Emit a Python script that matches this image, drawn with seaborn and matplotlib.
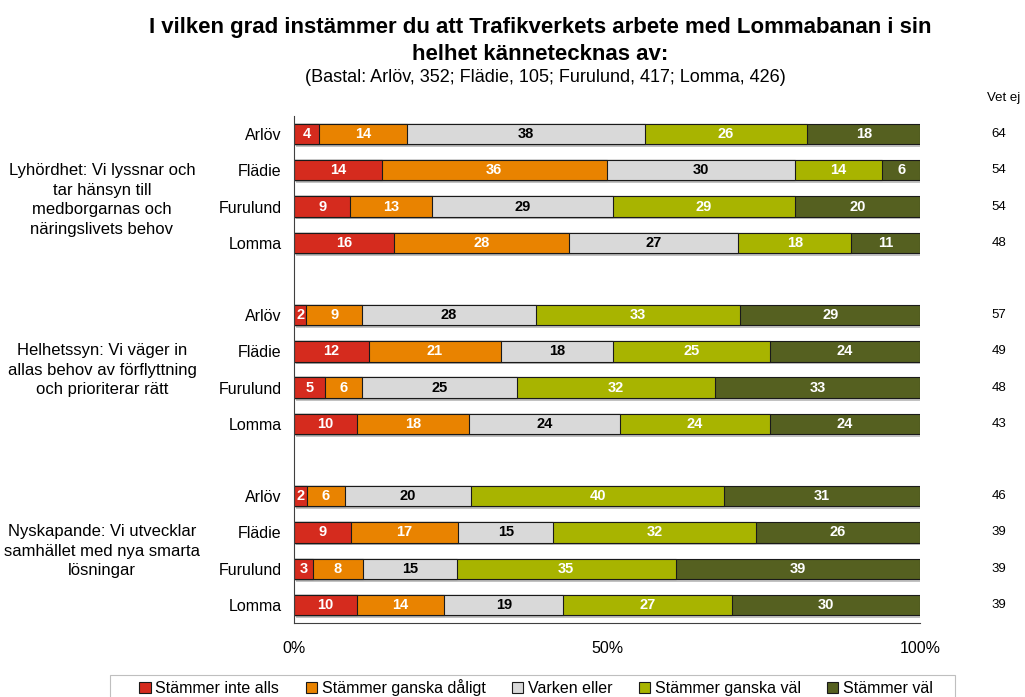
#!/usr/bin/env python3

import numpy as np
import pandas as pd
import matplotlib.pyplot as plt
import matplotlib.patheffects as pe
from matplotlib.patches import Patch, Rectangle
from matplotlib.transforms import blended_transform_factory
import seaborn as sns

# data
platser = ['Arlöv', 'Flädie', 'Furulund', 'Lomma']
teman = [
    'Lyhördhet: Vi lyssnar och\ntar hänsyn till\nmedborgarnas och\nnäringslivets behov',
    'Helhetssyn: Vi väger in\nallas behov av förflyttning\noch prioriterar rätt',
    'Nyskapande: Vi utvecklar\nsamhället med nya smarta\nlösningar',
]
svar = ['Stämmer inte alls', 'Stämmer ganska dåligt', 'Varken eller',
        'Stämmer ganska väl', 'Stämmer väl']

inte_alls = [4, 14, 9, 16, 2, 12, 5, 10, 2, 9, 3, 10]
ganska_daligt = [14, 36, 13, 28, 9, 21, 6, 18, 6, 17, 8, 14]
varken = [38, 30, 29, 27, 28, 18, 25, 24, 20, 15, 15, 19]
ganska_val = [26, 14, 29, 18, 33, 25, 32, 24, 40, 32, 35, 27]
val = [18, 6, 20, 11, 29, 24, 33, 24, 31, 26, 39, 30]
vet_ej = [64, 54, 54, 48, 57, 49, 48, 43, 46, 39, 39, 39]

farger = ['#D52B1E', '#E98300', '#D9D9D9', '#A8B400', '#556020']
textfarg = ['white', 'white', 'black', 'white', 'white']

sns.set_style('white')
plt.rcParams['font.family'] = ['Liberation Sans', 'DejaVu Sans']
plt.rcParams['text.color'] = 'black'
plt.rcParams['xtick.color'] = 'black'
plt.rcParams['ytick.color'] = 'black'

# row keys, with empty gap rows between the themes
keys = []
order = []
for t in range(len(teman)):
    for p in platser:
        keys.append(f'{t}-{p}')
        order.append(f'{t}-{p}')
    if t < len(teman) - 1:
        order.append(f'gap{t}')

vals = np.array([inte_alls, ganska_daligt, varken, ganska_val, val], dtype=float)
pct = vals / vals.sum(axis=0) * 100
cum = pct.cumsum(axis=0)

fig = plt.figure(figsize=(10.25, 6.97), dpi=100)
ax = fig.add_axes([0.2868, 0.1062, 0.6108, 0.7274])

# stacked bars: draw cumulative totals from longest to shortest
for i in reversed(range(len(svar))):
    df = pd.DataFrame({'rad': keys, 'andel': cum[i]})
    n_before = len(ax.patches)
    sns.barplot(data=df, x='andel', y='rad', order=order, orient='h',
                color=farger[i], saturation=1, width=0.56, errorbar=None,
                edgecolor='#1a1a1a', linewidth=0.8, ax=ax)
    if i == len(svar) - 1:
        for patch in ax.patches[n_before:]:
            patch.set_path_effects([
                pe.SimplePatchShadow(offset=(1.5, -2), shadow_rgbFace='#9a9a9a', alpha=0.6),
                pe.Normal()])

# value labels centred in each segment
for r, key in enumerate(keys):
    y = order.index(key)
    for i in range(len(svar)):
        xc = cum[i, r] - pct[i, r] / 2
        ax.text(xc, y, f'{int(vals[i, r])}', ha='center', va='center',
                color=textfarg[i], fontsize=10.5, fontweight='bold')

# axes styling
ax.set_xlim(0, 100)
ax.set_ylim(len(order) - 0.5, -0.5)
ax.set_xticks([0, 50, 100])
ax.set_xticklabels(['0%', '50%', '100%'], fontsize=11.5)
ax.set_yticks(range(len(order)))
ax.set_yticklabels([k.split('-')[1] if '-' in k else '' for k in order], fontsize=11.5)
ax.set_yticks(np.arange(-0.5, len(order)), minor=True)
ax.tick_params(axis='y', which='major', length=0, pad=9)
ax.tick_params(axis='y', which='minor', length=5, width=0.8, direction='out', color='#404040')
ax.tick_params(axis='x', length=5, width=0.8, direction='out', color='#404040', pad=8)
ax.set(xlabel=None, ylabel=None)
for s in ['top', 'right']:
    ax.spines[s].set_visible(False)
for s in ['left', 'bottom']:
    ax.spines[s].set_color('#404040')
    ax.spines[s].set_linewidth(0.8)

# theme labels on the left
trans_l = blended_transform_factory(fig.transFigure, ax.transData)
for t, y in zip(teman, [1.82, 6.52, 11.52]):
    ax.text(102 / 1025, y, t, transform=trans_l, ha='center', va='center',
            fontsize=12, linespacing=1.38)

# "Vet ej" column
for key, v in zip(keys, vet_ej):
    ax.text(999 / 1025, order.index(key), str(v), transform=trans_l,
            ha='center', va='center', fontsize=9.5)
fig.text(1004 / 1025, 1 - 98 / 697, 'Vet ej', ha='center', va='center', fontsize=9.5)

# titles
fig.text(540 / 1025, 1 - 28 / 697,
         'I vilken grad instämmer du att Trafikverkets arbete med Lommabanan i sin',
         ha='center', va='center', fontsize=16, fontweight='bold')
fig.text(540 / 1025, 1 - 54 / 697, 'helhet kännetecknas av:',
         ha='center', va='center', fontsize=16, fontweight='bold')
fig.text(545 / 1025, 1 - 78 / 697,
         '(Bastal: Arlöv, 352; Flädie, 105; Furulund, 417; Lomma, 426)',
         ha='center', va='center', fontsize=13)

# legend: frame drawn separately so it can be wider than the entries
handles = [Patch(facecolor=c, edgecolor='#1a1a1a', linewidth=0.8) for c in farger]
leg = fig.legend(handles, svar, loc='center', bbox_to_anchor=(0.523, 1 - 688 / 697),
                 ncol=5, fontsize=11.5, frameon=False,
                 handlelength=0.7, handleheight=0.7, handletextpad=0.3,
                 columnspacing=1.65, borderaxespad=0, borderpad=0.2)
fig.patches.append(Rectangle((110 / 1025, -0.02), 845 / 1025, 0.02 + 22 / 697,
                             transform=fig.transFigure, fill=False,
                             edgecolor='#BFBFBF', linewidth=0.8))

plt.savefig('out.png', dpi=100)
plt.close()
